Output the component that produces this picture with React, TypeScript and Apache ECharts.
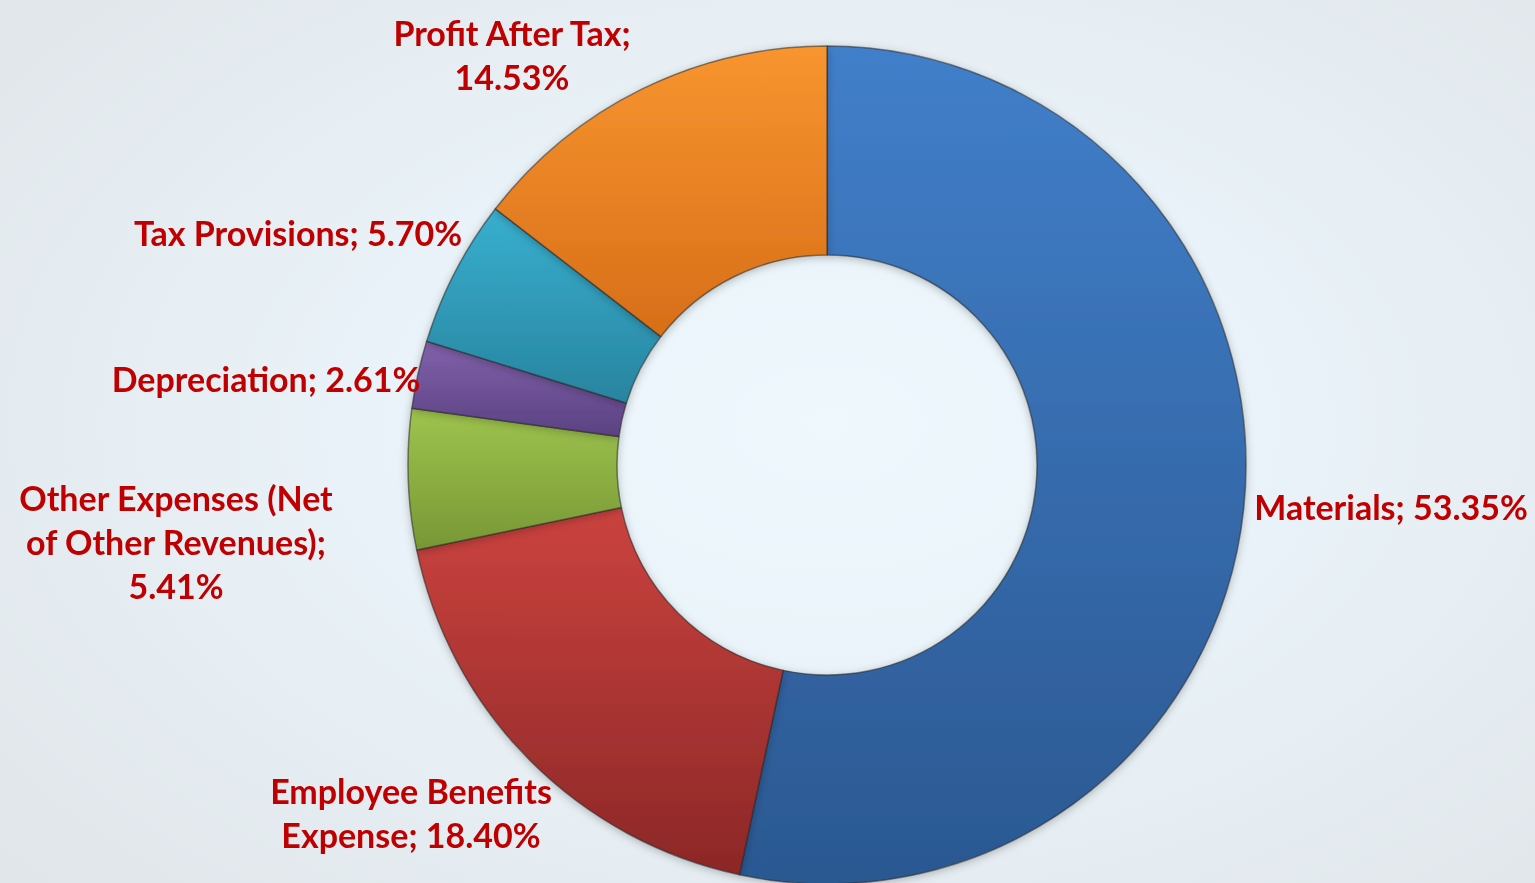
import React, { useEffect, useRef } from "react";
import * as echarts from "echarts";

const categories = [
  "Materials",
  "Employee Benefits Expense",
  "Other Expenses (Net of Other Revenues)",
  "Depreciation",
  "Tax Provisions",
  "Profit After Tax",
];
const shares = [53.35, 18.4, 5.41, 2.61, 5.7, 14.53];

// word counts after which a label line break is placed
const labelBreaks = [[], [2], [3, 6], [], [], [3]];
// label centre positions (px)
const labelPos = [
  [1391, 506],
  [411, 812],
  [176, 541],
  [266, 378],
  [298, 232],
  [512, 54],
];
const sliceColors = [
  ["#417fca", "#2b5891"],
  ["#cb433f", "#8c2727"],
  ["#9fc44e", "#779735"],
  ["#8261ab", "#5a4282"],
  ["#38afcf", "#28849f"],
  ["#f8952f", "#d76e18"],
];

function wrapLabel(text: string, breaks: number[]): string {
  const words = text.split(" ");
  let out = "";
  words.forEach((w, i) => {
    if (i > 0) out += breaks.includes(i) ? "\n" : " ";
    out += w;
  });
  return out;
}

export default function App() {
  const ref = useRef<HTMLDivElement>(null);
  useEffect(() => {
    if (!ref.current) return;
    const chart = echarts.init(ref.current, undefined, { renderer: "svg" });
    chart.setOption({
      animation: false,
      series: [
        {
          type: "pie",
          center: [827, 465],
          radius: [210, 419],
          startAngle: 90,
          clockwise: true,
          avoidLabelOverlap: false,
          labelLine: { show: false },
          itemStyle: {
            borderColor: "rgba(40,40,40,0.55)",
            borderWidth: 1.5,
            shadowBlur: 8,
            shadowColor: "rgba(0,0,0,0.25)",
            shadowOffsetY: 2,
          },
          label: {
            show: true,
            position: "outside",
            color: "#c00000",
            fontFamily: "Lato, 'Noto Sans', sans-serif",
            fontWeight: "bold",
            fontSize: 34,
            lineHeight: 44,
            align: "center",
            formatter: (p: any) =>
              wrapLabel(
                `${p.name}; ${Number(p.value).toFixed(2)}%`,
                labelBreaks[p.dataIndex]
              ),
          },
          labelLayout: (params: any) => ({
            x: labelPos[params.dataIndex][0],
            y: labelPos[params.dataIndex][1],
            align: "center",
            verticalAlign: "middle",
          }),
          data: categories.map((name, i) => ({
            name,
            value: shares[i],
            itemStyle: {
              color: new echarts.graphic.LinearGradient(0, 0, 0, 1, [
                { offset: 0, color: sliceColors[i][0] },
                { offset: 1, color: sliceColors[i][1] },
              ]),
            },
          })),
        },
      ],
    });
    return () => chart.dispose();
  }, []);
  return (
    <div
      style={{
        position: "fixed",
        left: 0,
        top: 0,
        width: 1535,
        height: 883,
        background:
          "radial-gradient(ellipse 70% 75% at 54% 48%, #eef8fd 0%, #e9f2f8 45%, #e1e6ea 100%)",
      }}
    >
      <div ref={ref} style={{ width: 1535, height: 883 }} />
    </div>
  );
}
